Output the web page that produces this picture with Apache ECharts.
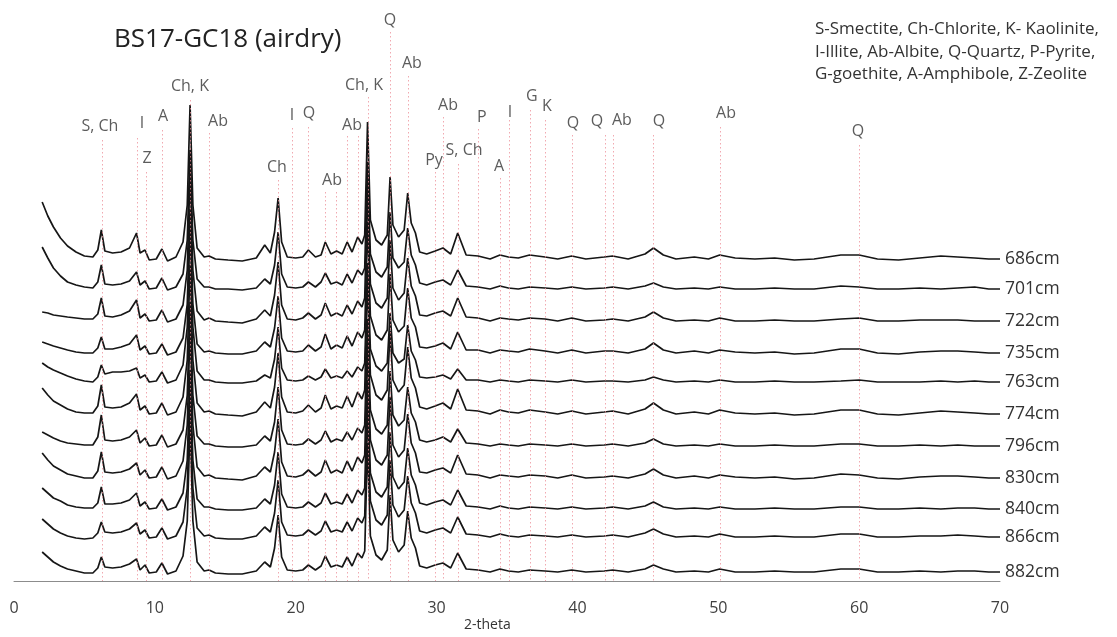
<!DOCTYPE html>
<html>
<head>
<meta charset="utf-8">
<title>BS17-GC18 (airdry)</title>
<script src="https://cdn.jsdelivr.net/npm/echarts@6/dist/echarts.min.js"></script>
<style>
  html, body { margin: 0; padding: 0; background: #fff; }
  #container { width: 1117px; height: 637px; }
</style>
</head>
<body>
<div id="container"></div>
<script>
// 2-theta sample positions (shared by every trace)
var twoTheta = [
  2.0, 2.4, 2.8, 3.3, 3.8, 4.4, 5.0, 5.6, 5.95, 6.2,
  6.45, 7.0, 7.6, 8.2, 8.7, 8.95, 9.3, 9.6, 10.1, 10.5,
  10.9, 11.5, 12.0, 12.3, 12.5, 12.7, 13.0, 13.5, 13.85, 14.3,
  15.2, 16.2, 17.2, 17.8, 18.2, 18.5, 18.75, 19.0, 19.4, 20.0,
  20.5, 20.9, 21.4, 21.8, 22.1, 22.5, 22.9, 23.3, 23.65, 24.0,
  24.4, 24.7, 24.9, 25.1, 25.3, 25.7, 26.1, 26.5, 26.7, 26.9,
  27.3, 27.7, 27.95, 28.2, 28.5, 28.8, 29.3, 29.9, 30.45, 31.0,
  31.5, 32.1, 32.95, 33.8, 34.5, 35.1, 35.8, 36.6, 37.7, 38.6,
  39.6, 40.6, 41.9, 42.5, 43.6, 44.8, 45.4, 46.1, 47.0, 48.3,
  49.3, 50.1, 51.2, 52.6, 54.0, 55.4, 56.8, 58.7, 60.0, 61.3,
  62.8, 64.3, 65.8, 67.0, 68.2, 69.2, 70.0
];

// sample depths (trace names, top to bottom)
var depths = ['686cm', '701cm', '722cm', '735cm', '763cm', '774cm', '796cm', '830cm', '840cm', '866cm', '882cm'];

// relative intensity of each trace
var i686 = [
  58, 44, 33, 22, 14, 8, 4, 3, 10, 30,
  9, 7, 8, 12, 27, 7, 10, 0, 1, 11,
  -1, 3, 18, 55, 155, 55, 12, 3, 4, 1,
  0, -1, 2, 15, 7, 28, 62, 18, 3, 2,
  3, 10, 3, 5, 18, 6, 9, 6, 18, 8,
  23, 16, 25, 138, 40, 20, 15, 25, 83, 35,
  23, 30, 67, 37, 27, 8, 6, 9, 12, 6,
  27, 5, 4, 1, 5, 3, 2, 5, 3, 1,
  4, 1, 3, 4, 1, 6, 12, 5, 1, 3,
  1, 5, 2, 1, 2, 0, 1, 5, 5, 1,
  0, 2, 4, 3, 2, 1, 1
];
var i701 = [
  43, 32, 22, 14, 8, 5, 3, 2, 8, 25,
  6, 5, 6, 9, 18, 5, 9, 1, 2, 12,
  0, 3, 16, 50, 140, 50, 11, 3, 3, 1,
  1, 0, 2, 11, 6, 25, 58, 16, 3, 2,
  3, 8, 3, 8, 17, 6, 8, 5, 16, 7,
  20, 15, 22, 128, 36, 18, 13, 23, 78, 32,
  22, 28, 62, 35, 25, 7, 5, 8, 10, 5,
  20, 4, 3, 1, 4, 2, 1, 3, 2, 1,
  3, 1, 2, 3, 1, 4, 7, 3, 1, 2,
  1, 3, 1, 1, 2, 1, 1, 4, 3, 1,
  1, 2, 1, 2, 3, 1, 1
];
var i722 = [
  10, 9, 7, 6, 5, 4, 3, 3, 8, 24,
  6, 5, 7, 11, 22, 4, 8, 1, 2, 12,
  0, 3, 17, 52, 150, 52, 11, 2, 4, 1,
  0, -1, 3, 12, 6, 27, 60, 17, 3, 2,
  4, 9, 3, 7, 19, 6, 9, 6, 17, 8,
  21, 15, 24, 135, 38, 19, 14, 24, 82, 34,
  22, 29, 64, 36, 26, 7, 6, 9, 11, 6,
  24, 5, 4, 1, 4, 3, 2, 4, 3, 1,
  4, 1, 2, 3, 1, 5, 10, 4, 1, 2,
  1, 4, 1, 1, 2, 1, 1, 3, 4, 1,
  1, 2, 2, 2, 1, 1, 1
];
var i735 = [
  12, 10, 8, 6, 4, 2, 1, 1, 6, 17,
  5, 5, 7, 10, 19, 4, 8, 0, 1, 10,
  -1, 2, 16, 50, 145, 50, 10, 2, 3, 1,
  0, 0, 3, 12, 7, 26, 58, 16, 3, 2,
  3, 9, 3, 7, 20, 5, 9, 6, 18, 8,
  22, 16, 24, 132, 38, 19, 14, 24, 80, 34,
  22, 28, 66, 36, 27, 7, 6, 8, 11, 5,
  22, 4, 4, 1, 4, 3, 2, 5, 3, 1,
  4, 1, 3, 3, 1, 5, 11, 4, 1, 3,
  1, 4, 2, 1, 2, 0, 1, 5, 5, 1,
  0, 2, 3, 3, 2, 1, 1
];
var i763 = [
  20, 16, 13, 10, 7, 4, 2, 1, 6, 18,
  9, 11, 11, 12, 15, 5, 8, 1, 2, 11,
  0, 3, 18, 56, 160, 56, 12, 3, 3, 1,
  0, 0, 2, 8, 5, 24, 56, 15, 3, 2,
  3, 7, 3, 6, 14, 5, 7, 5, 12, 6,
  16, 12, 20, 120, 34, 17, 12, 20, 70, 30,
  20, 24, 58, 32, 23, 6, 5, 6, 8, 4,
  14, 3, 3, 1, 3, 2, 1, 3, 2, 1,
  3, 1, 2, 2, 1, 3, 6, 3, 1, 2,
  1, 3, 1, 1, 2, 1, 1, 2, 3, 1,
  1, 1, 2, 1, 2, 1, 1
];
var i774 = [
  27, 20, 14, 10, 6, 3, 2, 2, 9, 30,
  8, 7, 8, 12, 21, 5, 9, 1, 2, 12,
  0, 3, 18, 55, 150, 55, 12, 3, 4, 1,
  0, -1, 3, 13, 7, 28, 62, 18, 3, 2,
  4, 10, 3, 7, 20, 6, 9, 7, 19, 8,
  23, 16, 25, 138, 40, 20, 15, 25, 84, 35,
  23, 30, 68, 37, 27, 8, 6, 9, 12, 6,
  26, 5, 4, 1, 5, 3, 2, 5, 3, 1,
  4, 1, 3, 4, 1, 6, 12, 5, 1, 3,
  1, 5, 2, 1, 2, 0, 1, 5, 5, 1,
  0, 2, 4, 3, 2, 1, 1
];
var i796 = [
  15, 12, 9, 6, 4, 3, 2, 2, 10, 32,
  7, 6, 7, 10, 17, 4, 9, 1, 2, 12,
  0, 3, 17, 52, 145, 52, 11, 3, 3, 1,
  0, 0, 2, 11, 6, 25, 60, 17, 3, 2,
  3, 8, 3, 7, 16, 5, 8, 6, 15, 7,
  19, 14, 22, 128, 37, 18, 13, 22, 76, 32,
  21, 27, 60, 34, 25, 7, 5, 7, 10, 5,
  18, 4, 3, 1, 3, 2, 1, 3, 2, 1,
  3, 1, 2, 3, 1, 4, 8, 3, 1, 2,
  1, 3, 1, 1, 2, 1, 1, 3, 3, 1,
  1, 2, 1, 2, 1, 1, 1
];
var i830 = [
  26, 19, 13, 9, 5, 3, 1, 1, 8, 27,
  7, 6, 7, 10, 16, 4, 9, 1, 2, 12,
  0, 3, 18, 54, 150, 54, 12, 3, 4, 1,
  0, -1, 3, 12, 7, 27, 60, 17, 3, 2,
  4, 9, 3, 7, 19, 6, 9, 6, 18, 8,
  22, 16, 24, 134, 39, 19, 14, 24, 82, 34,
  22, 29, 65, 36, 26, 7, 6, 9, 11, 6,
  24, 5, 4, 1, 4, 3, 2, 4, 3, 1,
  4, 1, 2, 3, 1, 5, 10, 4, 1, 3,
  1, 4, 2, 1, 2, 0, 1, 5, 4, 1,
  0, 2, 3, 3, 2, 1, 1
];
var i840 = [
  22, 17, 12, 9, 5, 3, 2, 2, 7, 23,
  6, 6, 7, 10, 17, 4, 8, 1, 2, 11,
  0, 3, 17, 50, 140, 50, 11, 3, 3, 1,
  0, 0, 2, 11, 6, 25, 58, 16, 3, 2,
  3, 8, 3, 7, 17, 6, 8, 6, 16, 7,
  20, 15, 22, 130, 37, 18, 13, 23, 78, 33,
  21, 28, 62, 35, 25, 7, 5, 8, 10, 5,
  20, 4, 3, 1, 4, 2, 1, 3, 2, 1,
  3, 1, 2, 3, 1, 4, 8, 3, 1, 2,
  1, 3, 1, 1, 2, 1, 1, 3, 3, 1,
  1, 2, 1, 2, 2, 1, 1
];
var i866 = [
  19, 14, 9, 5, 2, 0, -1, 0, 5, 16,
  6, 5, 6, 9, 15, 4, 8, 0, 1, 10,
  -1, 2, 16, 50, 145, 50, 10, 2, 3, 0,
  -1, -1, 2, 11, 6, 25, 58, 16, 3, 2,
  3, 8, 3, 7, 17, 6, 8, 6, 16, 7,
  20, 15, 22, 130, 37, 18, 13, 23, 78, 33,
  21, 28, 62, 35, 25, 7, 5, 8, 10, 5,
  21, 4, 3, 1, 4, 2, 1, 3, 2, 1,
  3, 1, 2, 3, 1, 5, 9, 4, 1, 2,
  1, 4, 1, 1, 2, 1, 1, 4, 4, 1,
  1, 2, 2, 3, 2, 1, 1
];
var i882 = [
  21, 16, 11, 7, 4, 2, 0, 0, 5, 16,
  6, 5, 6, 9, 14, 3, 8, 0, 1, 10,
  -1, 2, 17, 52, 150, 52, 11, 2, 3, 0,
  -1, -1, 2, 11, 6, 25, 58, 16, 3, 2,
  3, 8, 3, 7, 17, 6, 8, 6, 16, 7,
  20, 15, 22, 130, 37, 18, 13, 23, 78, 33,
  21, 28, 62, 35, 25, 7, 5, 8, 10, 5,
  20, 4, 3, 1, 4, 2, 1, 3, 2, 1,
  3, 1, 2, 3, 1, 4, 8, 4, 1, 2,
  1, 4, 1, 1, 2, 1, 1, 4, 4, 1,
  1, 2, 1, 2, 2, 1, 1
];

// reference peak lines (2-theta) and labels
var peakLines = [6.25, 8.73, 9.37, 10.51, 12.49, 13.84, 18.74, 19.74, 20.87, 22.08,
  22.86, 23.64, 24.42, 25.13, 26.69, 27.97, 29.89, 30.46, 31.52, 32.94,
  34.5, 35.14, 36.63, 37.7, 39.61, 41.96, 42.52, 45.36, 50.12, 59.99];
var peakLabels = ['S, Ch', 'I', 'Z', 'A', 'Ch, K', 'Ab', 'Ch', 'I', 'Q', 'Ab',
  'Ab', 'Ch, K', 'Q', 'Ab', 'Py', 'Ab', 'S, Ch', 'P', 'A', 'I',
  'G', 'K', 'Q', 'Q', 'Ab', 'Q', 'Ab', 'Q'];
var peakLabelPos = [6.1, 9.09, 9.44, 10.58, 12.49, 14.48, 18.67, 19.74, 20.94, 22.58,
  24.0, 24.85, 26.69, 28.25, 29.82, 30.81, 31.95, 33.22, 34.43, 35.21,
  36.77, 37.84, 39.69, 41.39, 43.16, 45.79, 50.55, 59.92];

var legendText = 'S-Smectite, Ch-Chlorite, K- Kaolinite,\nI-Illite, Ab-Albite, Q-Quartz, P-Pyrite,\nG-goethite, A-Amphibole, Z-Zeolite';

// layout: vertical stacking of the traces, height of the dotted lines and labels
var traceOffset = [321, 291, 259, 227, 198, 166, 134, 102, 71, 43, 8];
var lineTop = [441, 443, 409, 451, 481, 448, 401, 453, 454, 389,
  389, 445, 445, 484, 549, 505, 409, 464, 417, 452,
  403, 461, 471, 461, 446, 446, 446, 446, 454, 436];
var labelHeight = [455, 458, 423, 465, 495, 460, 414, 466, 468, 401,
  456, 496, 561, 518, 421, 476, 431, 464, 415, 469,
  485, 475, 458, 460, 461, 460, 468, 450];

var traces = [i686, i701, i722, i735, i763, i774, i796, i830, i840, i866, i882];
var FONT = '"Open Sans", "Noto Sans", sans-serif';

var charts;

function getECharts() {
    if (charts != undefined) {
        return charts;
    }
    charts = echarts.init(document.getElementById('container'), null, { renderer: 'canvas' });
    return charts;
}

function buildOption() {
    var series = [];

    // dotted reference lines + peak labels
    var marks = peakLines.map(function (x, k) {
        return [{ coord: [x, lineTop[k]] }, { coord: [x, 0] }];
    });
    series.push({
        name: 'peaks',
        type: 'scatter',
        z: 1,
        symbolSize: 0,
        silent: true,
        data: peakLabelPos.map(function (x, k) { return [x, labelHeight[k], peakLabels[k]]; }),
        label: {
            show: true,
            position: 'inside',
            formatter: function (p) { return p.value[2]; },
            fontSize: 16,
            color: '#333',
            fontFamily: FONT
        },
        markLine: {
            silent: true,
            symbol: ['none', 'none'],
            label: { show: false },
            lineStyle: { color: 'rgba(236,140,150,0.75)', type: [1.5, 2.5], width: 1 },
            data: marks
        }
    });

    traces.forEach(function (vals, i) {
        series.push({
            name: depths[i],
            type: 'line',
            z: 2,
            showSymbol: false,
            symbol: 'none',
            data: twoTheta.map(function (x, j) { return [x, vals[j] + traceOffset[i]]; }),
            lineStyle: { color: '#161616', width: 1.7 },
            endLabel: {
                show: true,
                formatter: '{a}',
                distance: 5,
                fontSize: 17.5,
                color: '#333',
                fontFamily: FONT
            }
        });
    });

    return {
        animation: false,
        backgroundColor: '#fff',
        grid: { left: 14, right: 117, top: 0, bottom: 56 },
        xAxis: {
            type: 'value',
            min: 0,
            max: 70,
            interval: 10,
            axisLine: { show: true, lineStyle: { color: '#8c8c8c', width: 1 } },
            axisTick: { show: false },
            splitLine: { show: false },
            axisLabel: { fontSize: 16, color: '#404040', margin: 19, fontFamily: FONT }
        },
        yAxis: { type: 'value', min: 0, max: 581, show: false },
        graphic: [
            { type: 'text', left: 114, top: 27,
              style: { text: 'BS17-GC18 (airdry)', fontSize: 26, fill: '#222', fontFamily: FONT } },
            { type: 'text', left: 815, top: 18,
              style: { text: legendText, fontSize: 17, lineHeight: 22.5, fill: '#333', fontFamily: FONT } },
            { type: 'text', left: 464, top: 618,
              style: { text: '2-theta', fontSize: 14, fill: '#333', fontFamily: FONT } }
        ],
        series: series
    };
}

getECharts().setOption(buildOption(), true);
</script>
</body>
</html>
